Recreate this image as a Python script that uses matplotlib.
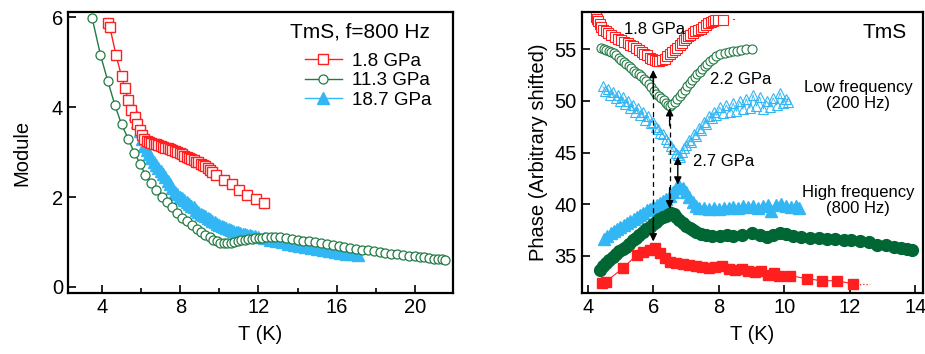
import numpy as np
import matplotlib.pyplot as plt
from matplotlib.ticker import MultipleLocator

plt.rcParams['font.family'] = ['Liberation Sans', 'DejaVu Sans']

# ---- left panel: module at f = 800 Hz ----
mod_18_T = [4.29, 4.39, 4.71, 4.99, 5.17, 5.33, 5.50, 5.67, 5.79, 5.92,
            6.04, 6.16, 6.28, 6.40, 6.52, 6.64, 6.76, 6.88, 7.00, 7.12,
            7.24, 7.36, 7.48, 7.60, 7.72, 7.84, 7.96, 8.08, 8.20, 8.32,
            8.44, 8.56, 8.68, 8.80, 8.92, 9.04, 9.16, 9.28, 9.40, 9.52,
            9.64, 9.84, 10.25, 10.64, 11.03, 11.44, 11.86, 12.29]
mod_18 = [5.88, 5.79, 5.16, 4.69, 4.42, 4.16, 3.93, 3.79, 3.62, 3.49,
          3.38, 3.30, 3.25, 3.22, 3.20, 3.18, 3.17, 3.15, 3.14, 3.12,
          3.10, 3.09, 3.07, 3.05, 3.03, 3.00, 2.97, 2.95, 2.92, 2.90,
          2.87, 2.85, 2.82, 2.79, 2.77, 2.74, 2.71, 2.68, 2.64, 2.60,
          2.56, 2.49, 2.38, 2.28, 2.15, 2.04, 1.95, 1.87]

mod_113_T = [3.49, 3.91, 4.29, 4.65, 4.99, 5.33, 5.65, 5.96, 6.21, 6.50,
             6.77, 7.06, 7.32, 7.57, 7.83, 8.09, 8.34, 8.60, 8.85, 9.07, 9.28,
             9.50, 9.68, 9.86, 10.04, 10.22, 10.40, 10.58, 10.76, 10.94, 11.12,
             11.30, 11.48, 11.66, 11.84, 12.02, 12.20, 12.40, 12.62, 12.85,
             13.1, 13.4, 13.7, 14.0, 14.3, 14.6, 14.9, 15.2, 15.5, 15.8,
             16.1, 16.4, 16.7, 17.0, 17.3, 17.6, 17.9, 18.2, 18.5, 18.8,
             19.1, 19.4, 19.7, 20.0, 20.25, 20.5, 20.75, 21.0, 21.2, 21.4, 21.55]
mod_113 = [5.98, 5.17, 4.58, 4.05, 3.62, 3.30, 2.98, 2.73, 2.49, 2.32,
           2.15, 2.00, 1.89, 1.77, 1.65, 1.54, 1.46, 1.37, 1.29, 1.22, 1.15,
           1.10, 1.05, 1.01, 0.98, 0.97, 0.97, 0.98, 1.00, 1.02, 1.04,
           1.05, 1.06, 1.07, 1.08, 1.09, 1.09, 1.10, 1.10, 1.10,
           1.10, 1.09, 1.07, 1.05, 1.03, 1.01, 0.99, 0.97, 0.95, 0.93,
           0.91, 0.89, 0.87, 0.85, 0.83, 0.81, 0.79, 0.77, 0.75, 0.74,
           0.72, 0.71, 0.69, 0.68, 0.67, 0.66, 0.65, 0.63, 0.62, 0.61, 0.59]

mod_187_T = [5.68, 5.80, 5.92, 6.04, 6.16, 6.28, 6.40, 6.52, 6.64, 6.76,
             6.88, 7.00, 7.12, 7.24, 7.36, 7.48, 7.60, 7.72, 7.84, 7.96,
             8.08, 8.20, 8.32, 8.44, 8.56, 8.68, 8.80, 8.92, 9.04, 9.16,
             9.28, 9.40, 9.52, 9.64, 9.76, 9.88, 10.00, 10.12, 10.24, 10.36,
             10.48, 10.60, 10.72, 10.84, 10.96, 11.08, 11.20, 11.32, 11.44, 11.56,
             11.68, 11.80, 12.0, 12.3, 12.6, 12.9, 13.2, 13.5, 13.8, 14.1,
             14.4, 14.7, 15.0, 15.3, 15.6, 15.9, 16.2, 16.5, 16.8, 17.1]
mod_187 = [3.86, 3.66, 3.48, 3.30, 3.14, 3.04, 2.95, 2.86, 2.78, 2.71,
           2.64, 2.58, 2.51, 2.44, 2.36, 2.28, 2.20, 2.12, 2.06, 2.01,
           1.97, 1.93, 1.89, 1.85, 1.81, 1.77, 1.72, 1.67, 1.63, 1.60,
           1.57, 1.53, 1.50, 1.47, 1.44, 1.41, 1.38, 1.36, 1.33, 1.30,
           1.28, 1.26, 1.24, 1.22, 1.21, 1.19, 1.18, 1.17, 1.16, 1.15,
           1.14, 1.13, 1.11, 1.08, 1.05, 1.02, 0.99, 0.96, 0.93, 0.90,
           0.88, 0.86, 0.84, 0.82, 0.80, 0.78, 0.76, 0.74, 0.72, 0.70]

# ---- right panel: phase, low frequency (200 Hz, open) ----
lo_18_T = [4.24, 4.28, 4.31, 4.36, 4.42, 4.48, 4.55, 4.61, 4.70, 4.82,
           4.92, 5.02, 5.12, 5.22, 5.30, 5.38, 5.48, 5.58, 5.66, 5.73,
           5.81, 5.89, 5.96, 6.04, 6.12, 6.19, 6.27, 6.35, 6.42, 6.50,
           6.58, 6.65, 6.73, 6.81, 6.87, 6.93, 7.00, 7.06, 7.13, 7.21,
           7.29, 7.37, 7.45, 7.52, 7.60, 7.67, 7.75, 7.83, 7.90, 7.98, 8.13]
lo_18 = [58.1, 57.9, 57.7, 57.4, 57.2, 56.9, 56.8, 56.6, 56.4, 56.2,
         56.0, 55.9, 55.7, 55.6, 55.4, 55.3, 55.1, 54.9, 54.7, 54.5,
         54.4, 54.2, 54.1, 54.0, 53.9, 53.9, 54.0, 54.1, 54.3, 54.5,
         54.7, 54.9, 55.1, 55.4, 55.6, 55.9, 56.1, 56.3, 56.4, 56.6,
         56.8, 56.9, 57.0, 57.2, 57.3, 57.5, 57.6, 57.7, 57.8, 57.8, 57.8]
lo_18_tail_T = [8.42, 8.47]
lo_18_tail = [57.9, 57.9]

lo_22_T = [4.41, 4.50, 4.56, 4.64, 4.71, 4.79, 4.87, 4.95, 5.02, 5.10,
           5.17, 5.25, 5.33, 5.40, 5.48, 5.56, 5.63, 5.71, 5.79, 5.86,
           5.94, 6.02, 6.09, 6.17, 6.24, 6.32, 6.40, 6.46, 6.52, 6.58,
           6.65, 6.73, 6.81, 6.88, 6.96, 7.04, 7.11, 7.19, 7.27, 7.35,
           7.42, 7.50, 7.57, 7.65, 7.72, 7.82, 7.93, 8.05, 8.18, 8.31,
           8.44, 8.56, 8.69, 8.84, 9.00]
lo_22 = [55.1, 55.0, 54.9, 54.8, 54.7, 54.6, 54.4, 54.2, 54.0, 53.8,
         53.6, 53.4, 53.2, 52.9, 52.7, 52.6, 52.4, 52.1, 51.9, 51.6,
         51.3, 51.0, 50.7, 50.5, 50.3, 50.1, 49.8, 49.6, 49.5, 49.7,
         49.9, 50.2, 50.5, 50.8, 51.1, 51.4, 51.7, 52.0, 52.3, 52.6,
         52.8, 53.1, 53.4, 53.6, 53.9, 54.1, 54.3, 54.5, 54.6, 54.7,
         54.8, 54.85, 54.9, 55.0, 55.0]

lo_27_T = [4.46, 4.54, 4.61, 4.69, 4.77, 4.85, 4.92, 5.00, 5.07, 5.15,
           5.22, 5.30, 5.38, 5.45, 5.53, 5.61, 5.68, 5.76, 5.84, 5.92,
           5.99, 6.07, 6.14, 6.22, 6.30, 6.38, 6.45, 6.53, 6.60, 6.68,
           6.76, 6.82, 6.89, 6.95, 7.01, 7.09, 7.16, 7.24, 7.32, 7.40,
           7.47, 7.55, 7.62, 7.70, 7.78, 7.86, 7.93, 8.03, 8.13, 8.23,
           8.34, 8.44, 8.54, 8.64, 8.74, 8.84, 8.95, 9.05, 9.15, 9.25,
           9.36, 9.46, 9.56, 9.66, 9.77, 9.87, 9.97, 10.05, 10.12]
lo_27 = [51.4, 51.0, 51.2, 50.6, 50.9, 50.3, 50.6, 50.0, 50.4, 49.7,
         50.0, 49.3, 49.6, 48.9, 49.3, 48.6, 48.9, 48.2, 48.5, 47.9,
         48.0, 47.5, 47.3, 46.9, 46.8, 46.3, 46.0, 45.6, 45.3, 45.0,
         44.8, 44.6, 45.1, 45.4, 45.7, 46.2, 46.0, 46.8, 46.6, 47.4,
         47.2, 48.0, 47.8, 48.5, 48.3, 48.9, 48.6, 49.4, 48.8, 49.6,
         48.9, 49.8, 49.0, 50.0, 49.2, 50.2, 49.3, 50.6, 49.5, 50.4,
         49.2, 50.0, 49.4, 50.3, 49.6, 50.8, 49.8, 50.2, 49.9]

# ---- right panel: high frequency (800 Hz, filled) ----
hi_27_T = [4.50, 4.60, 4.70, 4.80, 4.90, 5.00, 5.10, 5.20, 5.30, 5.40,
           5.50, 5.60, 5.70, 5.80, 5.90, 6.00, 6.10, 6.20, 6.30, 6.40,
           6.50, 6.60, 6.70, 6.80, 6.90, 7.00, 7.10, 7.20, 7.30, 7.40,
           7.55, 7.70, 7.85, 8.00, 8.15, 8.30, 8.45, 8.60, 8.75, 8.90,
           9.05, 9.20, 9.35, 9.50, 9.61, 9.75, 9.90, 10.05, 10.20, 10.35, 10.45]
hi_27 = [36.6, 36.9, 37.2, 37.4, 37.6, 37.8, 38.0, 38.2, 38.4, 38.6,
         38.8, 39.0, 39.2, 39.4, 39.5, 39.7, 39.9, 40.1, 40.3, 40.5,
         40.8, 41.2, 41.6, 41.8, 41.6, 41.2, 40.7, 40.2, 39.8, 39.6,
         39.6, 39.5, 39.6, 39.5, 39.6, 39.6, 39.7, 39.6, 39.8, 39.7,
         39.8, 39.6, 39.8, 39.9, 39.3, 39.9, 40.0, 39.8, 39.7, 39.8, 39.6]

hi_22_T = [4.36, 4.46, 4.56, 4.66, 4.77, 4.87, 4.97, 5.07, 5.17, 5.27,
           5.38, 5.48, 5.58, 5.68, 5.79, 5.89, 5.99, 6.09, 6.19, 6.29,
           6.40, 6.48, 6.55, 6.62, 6.70, 6.80, 6.91, 7.01, 7.11, 7.21,
           7.32, 7.45, 7.62, 7.80, 8.03, 8.25, 8.44, 8.70, 9.00, 9.25,
           9.46, 9.65, 9.87, 10.05, 10.28, 10.50, 10.79, 11.05, 11.30, 11.55,
           11.81, 12.05, 12.32, 12.58, 12.83, 13.10, 13.34, 13.55, 13.74, 13.90]
hi_22 = [33.6, 34.0, 34.3, 34.6, 34.9, 35.2, 35.5, 35.7, 35.9, 36.2,
         36.5, 36.7, 37.0, 37.3, 37.6, 37.8, 38.1, 38.3, 38.6, 38.8,
         38.9, 39.1, 39.2, 39.1, 38.8, 38.5, 38.2, 37.9, 37.7, 37.5,
         37.3, 37.1, 37.0, 36.9, 36.9, 37.0, 36.9, 37.0, 37.2, 37.0,
         36.8, 37.0, 37.2, 37.1, 36.9, 36.8, 36.7, 36.7, 36.6, 36.6,
         36.5, 36.5, 36.4, 36.3, 36.1, 36.1, 35.9, 35.8, 35.7, 35.6]

hi_18_T = [4.45, 4.55, 5.07, 5.50, 5.70, 5.90, 6.05, 6.20, 6.35, 6.50,
           6.70, 6.90, 7.10, 7.30, 7.50, 7.70, 7.90, 8.10, 8.30, 8.50,
           8.70, 8.90, 9.10, 9.30, 9.50, 9.70, 9.85, 10.17, 10.68, 11.14,
           11.60, 12.11]
hi_18 = [32.4, 32.5, 33.8, 35.1, 35.4, 35.6, 35.8, 35.3, 34.8, 34.4,
         34.3, 34.2, 34.1, 34.0, 33.9, 33.8, 33.9, 34.0, 33.7, 33.6,
         33.7, 33.5, 33.4, 33.5, 33.2, 33.3, 33.1, 33.1, 32.8, 32.6,
         32.6, 32.3]
hi_18_tail_T = [12.11, 12.30, 12.45, 12.62]
hi_18_tail = [32.3, 32.2, 32.25, 32.2]

# transition temperatures marked by arrows
Tc_18, Tc_22, Tc_27 = 6.0, 6.5, 6.75

red = '#ff1f1f'
green_l = '#237a45'
green_d = '#006633'
blue = '#33b6f4'

fig = plt.figure(figsize=(9.25, 3.54), dpi=100)
ax1 = fig.add_axes([0.0735, 0.172, 0.416, 0.794])
ax2 = fig.add_axes([0.629, 0.172, 0.369, 0.794])

fs = 14.5

# left
ax1.plot(mod_187_T, mod_187, '-^', color=blue, ms=8, mec=blue, lw=1, label='18.7 GPa', zorder=2)
ax1.plot(mod_113_T, mod_113, '-o', color=green_l, ms=6.5, mfc='white', mew=0.9, lw=1,
         label='11.3 GPa', zorder=3)
ax1.plot(mod_18_T, mod_18, '-s', color=red, ms=7.5, mfc='white', mew=1.0, lw=1,
         label='1.8 GPa', zorder=4)

ax1.set_xlim(2.25, 21.95)
ax1.set_ylim(-0.14, 6.12)
ax1.xaxis.set_major_locator(MultipleLocator(4))
ax1.xaxis.set_minor_locator(MultipleLocator(2))
ax1.yaxis.set_major_locator(MultipleLocator(2))
ax1.set_xlabel('T (K)', fontsize=fs)
ax1.set_ylabel('Module', fontsize=fs)
ax1.xaxis.set_label_coords(0.5, -0.115)
ax1.yaxis.set_label_coords(-0.094, 0.5)
ax1.text(0.94, 0.928, 'TmS, f=800 Hz', transform=ax1.transAxes, ha='right', va='center',
         fontsize=15)
h, l = ax1.get_legend_handles_labels()
ax1.legend(h[::-1], l[::-1], loc='upper left', bbox_to_anchor=(0.615, 0.855), frameon=False,
           fontsize=13.5, handlelength=2.0, handletextpad=0.55, labelspacing=0.12,
           borderpad=0, borderaxespad=0)

# right
ax2.plot(lo_27_T, lo_27, '-^', color=blue, ms=7, mfc='none', mew=0.8, lw=0.6)
ax2.plot(lo_22_T, lo_22, '-o', color=green_l, ms=6.5, mfc='white', mew=0.8, lw=0.6)
ax2.plot(lo_18_T, lo_18, '-s', color=red, ms=6.5, mfc='white', mew=0.8, lw=0.6)
ax2.plot(lo_18_tail_T, lo_18_tail, '-', color=red, lw=0.8)
ax2.plot(hi_27_T, hi_27, '^', color=blue, ms=8, mec=blue)
ax2.plot(hi_22_T, hi_22, 'o', color=green_d, ms=8.5, mec=green_d)
ax2.plot(hi_18_T, hi_18, '-s', color=red, ms=7, lw=0.8)
ax2.plot(hi_18_tail_T, hi_18_tail, ':', color=red, lw=0.9)

ax2.set_xlim(3.82, 14.24)
ax2.set_ylim(31.4, 58.6)
ax2.xaxis.set_major_locator(MultipleLocator(2))
ax2.yaxis.set_major_locator(MultipleLocator(5))
ax2.set_xlabel('T (K)', fontsize=fs)
ax2.set_ylabel('Phase (Arbitrary shifted)', fontsize=fs)
ax2.xaxis.set_label_coords(0.5, -0.115)
ax2.yaxis.set_label_coords(-0.1, 0.5)

# dashed guides and arrows
ax2.plot([Tc_18, Tc_18], [36.6, 52.6], '--', color='k', lw=0.9, dashes=(4, 3))
ax2.plot([Tc_22, Tc_22], [39.7, 49.2], '--', color='k', lw=0.9, dashes=(4, 3))
ap = dict(arrowstyle='-|>', color='k', lw=1.0, mutation_scale=11, shrinkA=0, shrinkB=0)
ax2.annotate('', xy=(Tc_18, 53.0), xytext=(Tc_18, 50.8), arrowprops=ap)
ax2.annotate('', xy=(Tc_18, 36.4), xytext=(Tc_18, 38.4), arrowprops=ap)
ax2.annotate('', xy=(Tc_22, 49.3), xytext=(Tc_22, 47.6), arrowprops=ap)
ax2.annotate('', xy=(Tc_22, 39.6), xytext=(Tc_22, 41.6), arrowprops=ap)
ap2 = dict(arrowstyle='<|-|>', color='k', lw=1.0, mutation_scale=11, shrinkA=0, shrinkB=0)
ax2.annotate('', xy=(Tc_27, 44.6), xytext=(Tc_27, 41.9), arrowprops=ap2)

lf = 12
ax2.text(6.05, 56.9, '1.8 GPa', ha='center', va='center', fontsize=lf)
ax2.text(8.68, 52.1, '2.2 GPa', ha='center', va='center', fontsize=lf)
ax2.text(8.16, 44.1, '2.7 GPa', ha='center', va='center', fontsize=lf)
ax2.text(12.26, 50.5, 'Low frequency\n(200 Hz)', ha='center', va='center', fontsize=lf,
         linespacing=1.1)
ax2.text(12.26, 40.4, 'High frequency\n(800 Hz)', ha='center', va='center', fontsize=lf,
         linespacing=1.1)
ax2.text(13.75, 56.6, 'TmS', ha='right', va='center', fontsize=15)

for ax in (ax1, ax2):
    for s in ax.spines.values():
        s.set_linewidth(1.6)
    ax.tick_params(which='major', direction='in', length=6, width=1.2, labelsize=fs)
    ax.tick_params(which='minor', direction='in', length=3.5, width=1.2)

fig.savefig('out.png', dpi=100)
